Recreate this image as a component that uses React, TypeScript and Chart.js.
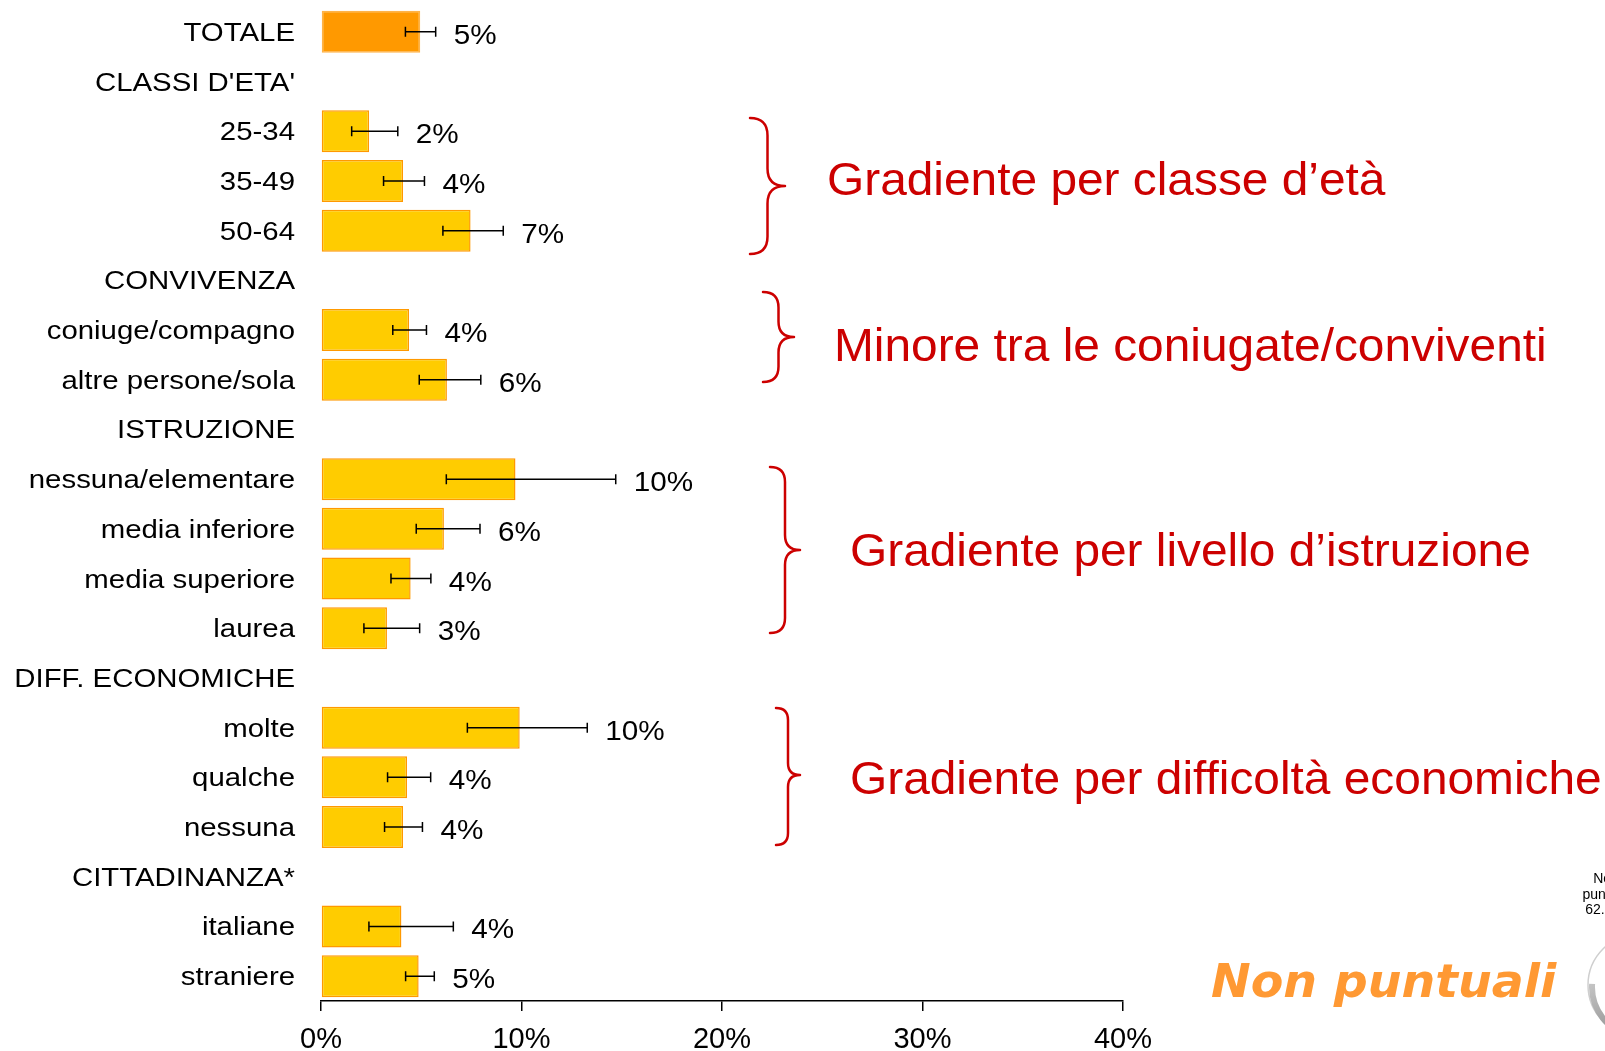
import React, { useEffect, useRef } from "react";
import { Chart, registerables } from "chart.js";

Chart.register(...registerables);

const categories = [
  "TOTALE",
  "CLASSI D'ETA'",
  "25-34",
  "35-49",
  "50-64",
  "CONVIVENZA",
  "coniuge/compagno",
  "altre persone/sola",
  "ISTRUZIONE",
  "nessuna/elementare",
  "media inferiore",
  "media superiore",
  "laurea",
  "DIFF. ECONOMICHE",
  "molte",
  "qualche",
  "nessuna",
  "CITTADINANZA*",
  "italiane",
  "straniere",
];

const values = [4.95, null, 2.4, 4.09, 7.46, null, 4.39, 6.28, null, 9.7, 6.13, 4.47, 3.29, null, 9.91, 4.29, 4.09, null, 4.01, 4.87];
const errLow = [4.21, null, 1.53, 3.12, 6.08, null, 3.58, 4.9, null, 6.25, 4.75, 3.49, 2.14, null, 7.3, 3.32, 3.17, null, 2.39, 4.22];
const errHigh = [5.72, null, 3.83, 5.16, 9.09, null, 5.26, 7.97, null, 14.7, 7.93, 5.48, 4.92, null, 13.28, 5.47, 5.06, null, 6.6, 5.65];
const valueLabels = ["5%", "", "2%", "4%", "7%", "", "4%", "6%", "", "10%", "6%", "4%", "3%", "", "10%", "4%", "4%", "", "4%", "5%"];

const xTicks = [0, 10, 20, 30, 40];

const annotations = [
  "Gradiente per classe d\u2019et\u00e0",
  "Minore tra le coniugate/conviventi",
  "Gradiente per livello d\u2019istruzione",
  "Gradiente per difficolt\u00e0 economiche",
];

const RED = "#CC0000";

function drawText(
  ctx: CanvasRenderingContext2D,
  text: string,
  x: number,
  y: number,
  font: string,
  color: string,
  align: CanvasTextAlign,
  sx: number
) {
  ctx.save();
  ctx.font = font;
  ctx.fillStyle = color;
  ctx.textAlign = align;
  ctx.textBaseline = "alphabetic";
  ctx.translate(x, y);
  ctx.scale(sx, 1);
  ctx.fillText(text, 0, 0);
  ctx.restore();
}

function drawBrace(ctx: CanvasRenderingContext2D, xl: number, xr: number, yt: number, yb: number, ym: number) {
  const xs = (xl + xr) / 2;
  const r = (xr - xl) / 2;
  ctx.save();
  ctx.strokeStyle = RED;
  ctx.lineWidth = 2.5;
  ctx.lineCap = "round";
  ctx.lineJoin = "round";
  ctx.beginPath();
  ctx.moveTo(xl, yt);
  ctx.quadraticCurveTo(xs, yt, xs, yt + r);
  ctx.lineTo(xs, ym - r);
  ctx.quadraticCurveTo(xs, ym, xr, ym);
  ctx.quadraticCurveTo(xs, ym, xs, ym + r);
  ctx.lineTo(xs, yb - r);
  ctx.quadraticCurveTo(xs, yb, xl, yb);
  ctx.stroke();
  ctx.restore();
}

const overlayPlugin = {
  id: "overlay",
  afterDatasetsDraw(chart: any) {
    const ctx: CanvasRenderingContext2D = chart.ctx;
    const xs = chart.scales.x;
    const ys = chart.scales.y;
    ctx.save();
    ctx.strokeStyle = "#000";
    ctx.lineWidth = 1.5;
    for (let i = 0; i < values.length; i++) {
      const lo = errLow[i];
      const hi = errHigh[i];
      if (lo == null || hi == null) continue;
      const cy = ys.getPixelForValue(i);
      const x0 = xs.getPixelForValue(lo);
      const x1 = xs.getPixelForValue(hi);
      ctx.beginPath();
      ctx.moveTo(x0, cy);
      ctx.lineTo(x1, cy);
      ctx.moveTo(x0, cy - 5);
      ctx.lineTo(x0, cy + 5);
      ctx.moveTo(x1, cy - 5);
      ctx.lineTo(x1, cy + 5);
      ctx.stroke();
    }
    ctx.restore();
    for (let i = 0; i < values.length; i++) {
      const hi = errHigh[i];
      if (hi == null || !valueLabels[i]) continue;
      const cy = ys.getPixelForValue(i);
      const x1 = xs.getPixelForValue(hi);
      drawText(ctx, valueLabels[i], x1 + 18, cy + 12, '27px "Liberation Sans", Arial, sans-serif', "#000", "left", 1.1);
    }
  },
  afterDraw(chart: any) {
    const ctx: CanvasRenderingContext2D = chart.ctx;
    const ys = chart.scales.y;
    const left = chart.chartArea.left;
    for (let i = 0; i < categories.length; i++) {
      const cy = ys.getPixelForValue(i);
      drawText(ctx, categories[i], left - 26, cy + 9, '26px "Liberation Sans", Arial, sans-serif', "#000", "right", 1.13);
    }
    drawBrace(ctx, 750, 785, 118, 254, 186);
    drawBrace(ctx, 763, 794, 292, 382, 337);
    drawBrace(ctx, 770, 800, 467, 633, 550);
    drawBrace(ctx, 776, 800, 708, 845, 775);
    const af = '46px "Liberation Sans", Arial, sans-serif';
    drawText(ctx, annotations[0], 827, 195, af, RED, "left", 1.04);
    drawText(ctx, annotations[1], 834, 361, af, RED, "left", 1.04);
    drawText(ctx, annotations[2], 850, 566, af, RED, "left", 1.04);
    drawText(ctx, annotations[3], 850, 794, af, RED, "left", 1.04);
    drawText(ctx, "Non puntuali", 1211, 997, 'italic bold 47px "DejaVu Sans", sans-serif', "#FF9933", "left", 1.01);
    const sf = '14px "Liberation Sans", Arial, sans-serif';
    drawText(ctx, "Non", 1606, 883, sf, "#000", "center", 1);
    drawText(ctx, "puntuali", 1607, 899, sf, "#000", "center", 1);
    drawText(ctx, "62.5%", 1605, 914, sf, "#000", "center", 1);
    ctx.save();
    ctx.strokeStyle = "#CFCFCF";
    ctx.lineWidth = 1.5;
    ctx.beginPath();
    ctx.arc(1639, 985, 51, 0, Math.PI * 2);
    ctx.stroke();
    const g = ctx.createLinearGradient(1588, 950, 1620, 1040);
    g.addColorStop(0, "#E0E0E0");
    g.addColorStop(1, "#8F8F8F");
    ctx.strokeStyle = g;
    ctx.lineWidth = 6;
    ctx.beginPath();
    ctx.arc(1642, 987, 50, Math.PI * 0.55, Math.PI * 1.02);
    ctx.stroke();
    ctx.restore();
  },
};

export default function App() {
  const ref = useRef<HTMLCanvasElement | null>(null);
  useEffect(() => {
    if (!ref.current) return;
    const borderColors = values.map((_, i) => (i === 0 ? "#FFB347" : "#FF9900"));
    const fillColors = values.map((_, i) => (i === 0 ? "#FF9900" : "#FFCC00"));
    const chart = new Chart(ref.current, {
      type: "bar",
      data: {
        labels: categories,
        datasets: [
          {
            data: values as any,
            backgroundColor: fillColors,
            borderColor: borderColors,
            borderWidth: 1.5,
            borderSkipped: false,
            barPercentage: 0.845,
            categoryPercentage: 1,
          },
        ],
      },
      options: {
        indexAxis: "y",
        animation: false,
        responsive: false,
        maintainAspectRatio: false,
        devicePixelRatio: 1,
        layout: { padding: { top: 7, right: 482, left: 0, bottom: 0 } },
        plugins: { legend: { display: false }, tooltip: { enabled: false } },
        scales: {
          y: {
            type: "category",
            offset: true,
            grid: { display: false },
            border: { display: false },
            ticks: { display: false },
            afterFit(scale: any) {
              scale.width = 321;
            },
          },
          x: {
            type: "linear",
            min: xTicks[0],
            max: xTicks[xTicks.length - 1],
            afterBuildTicks(scale: any) {
              scale.ticks = xTicks.map((v) => ({ value: v }));
            },
            ticks: {
              callback: (v: any) => v + "%",
              color: "#000",
              padding: 12,
              maxRotation: 0,
              font: { family: '"Liberation Sans", Arial, sans-serif', size: 29 },
            },
            grid: {
              drawOnChartArea: false,
              drawTicks: true,
              tickLength: 10,
              color: "#000",
              lineWidth: 1.5,
            },
            border: { display: true, color: "#000", width: 1.5 },
            afterFit(scale: any) {
              scale.height = 50;
            },
          },
        },
      },
      plugins: [overlayPlugin],
    });
    return () => chart.destroy();
  }, []);
  return (
    <div style={{ position: "fixed", left: 0, top: 0, width: 1605, height: 1051, background: "#fff" }}>
      <canvas ref={ref} width={1605} height={1051} style={{ display: "block" }} />
    </div>
  );
}
